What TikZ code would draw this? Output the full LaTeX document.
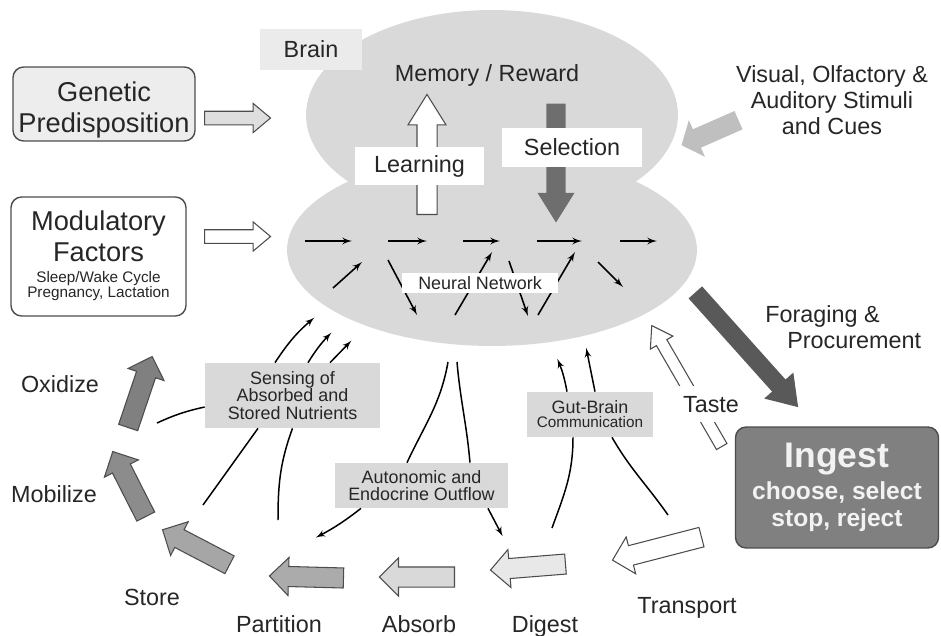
\documentclass[tikz,border=0pt]{standalone}
\usepackage{fontspec}
\setmainfont{Liberation Sans}
\newcommand\MainFont{\fontsize{13.3}{14.8}\selectfont}
\newcommand\BigFont{\fontsize{15.5}{17.5}\selectfont}
\newcommand\SmallFont{\fontsize{10.2}{10}\selectfont}
\newcommand\TinyFont{\fontsize{8.7}{9}\selectfont}
\usetikzlibrary
  {
    calc,
    arrows,
    shapes.geometric,
    shapes.arrows,
  }
\tikzset
  {
    >=latex',
    lobe/.style=
      {
        ellipse,
        fill=black!15,
        inner sep=0pt,
      },
    word/.style=
      {
        font=\MainFont,
        text=black!85,
        inner sep=0pt,
        align=center,
      },
    gray box/.style=
      {
        word,
        fill=black!15,
        font=\SmallFont,
      },
    white box/.style={gray box, fill=white, font=\MainFont},
    factor/.style=
      {
        draw=black!70,
        line width=.8pt,
        rounded corners=6pt,
        inner sep=0pt,
      },
    net arrow/.style={->, line width=.9pt},
    signal/.style={->, line width=.85pt, shorten >=.5pt},
    plain signal/.style={line width=.85pt},
    fat arrow/.style=
      {
        single arrow,
        draw=black!70,
        line width=.6pt,
        fill=white,
        inner xsep=0pt,
        inner ysep=.19cm,
        single arrow head extend=.18cm,
        single arrow tip angle=90,
        minimum width=0pt,
        anchor=tail,
      },
    thin arrow/.style=
      {
        inner ysep=.125cm,
        single arrow head extend=.155cm,
        single arrow tip angle=80,
      },
    tall arrow/.style=
      {
        inner ysep=.19cm,
        single arrow head extend=.18cm,
        single arrow tip angle=64,
      },
  }
\newcommand\FatArrow[4][]
  {%
    \path let \p1=($(#4)-(#3)$) in
      node[fat arrow, #1, rotate={atan2(\y1,\x1)},
        minimum height={veclen(\x1,\y1)}] (#2) at (#3) {};%
  }

\begin{document}
\begin{tikzpicture}[x=.02cm, y=-.02cm]
  \useasboundingbox (0,0) rectangle (941,636);

  \node[lobe, minimum width=7.44cm, minimum height=4.2cm] (memory lobe) at (492,115) {};
  \node[lobe, minimum width=8.2cm, minimum height=3.84cm] (network lobe) at (492,250) {};
  \node[gray box, fill=black!8, font=\MainFont, minimum width=2.04cm, minimum height=.82cm]
    (brain) at (311,49.5) {Brain};
  \node[word, anchor=base] (memory) at (487,81) {Memory / Reward};

  \FatArrow[tall arrow]{learning arrow}{427,215}{427,95}
  \node[white box, minimum width=2.58cm, minimum height=.76cm] (learning) at (419.5,166) {Learning};
  \FatArrow[tall arrow, inner ysep=.18cm, fill=black!57, draw=none]{selection arrow}{556,103}{556,222}
  \node[white box, minimum width=2.8cm, minimum height=.78cm] (selection) at (572,147.5) {Selection};

  \foreach \a/\b in {305/352, 388/427, 463/500, 537/582, 620/657}
    \draw[net arrow] (\a,241) -- (\b,241);
  \foreach \a/\b/\c/\d in
    {333/288/362/262, 388/260/417/315, 455/315/492/252,
     509/261/528/316, 538/315/575/252, 598/262/623/287}
    \draw[net arrow] (\a,\b) -- (\c,\d);
  \node[white box, font=\SmallFont, minimum width=3.12cm, minimum height=.4cm]
    (neural network) at (480,283) {Neural Network};

  \node[factor, fill=black!7, minimum width=3.64cm, minimum height=1.48cm] (genetic) at (104,104) {};
  \node[word, font=\BigFont] (genetic text) at (104,110) {Genetic\\Predisposition};
  \node[factor, fill=white, minimum width=3.5cm, minimum height=2.38cm] (modulatory) at (98.5,256.5) {};
  \node[word, font=\BigFont] (modulatory text) at (98.5,256)
    {Modulatory\\Factors\\[-5.6pt]{\TinyFont Sleep/Wake Cycle}\\[-8.7pt]{\TinyFont Pregnancy, Lactation}};
  \FatArrow[thin arrow, fill=black!13]{genetic arrow}{204,118}{270,118}
  \FatArrow[thin arrow]{modulatory arrow}{204,236.5}{270,236.5}

  \node[word, anchor=north] (cues) at (832,65) {Visual, Olfactory \&\\Auditory Stimuli\\and Cues};
  \FatArrow[single arrow head extend=.2cm, single arrow tip angle=100, fill=black!25, draw=none]
    {cue arrow}{739,120}{682,145}

  \FatArrow[inner ysep=.17cm, single arrow head extend=.21cm, single arrow tip angle=68,
    fill=black!65, draw=none]{foraging arrow}{695,292}{798,407}
  \node[word, align=left, anchor=north west] (foraging) at (765,305)
    {Foraging \&\\\hspace*{.44cm}Procurement};

  \node
    [
      factor,
      fill=black!50,
      minimum width=4.06cm,
      minimum height=2.42cm,
      text=black!5,
      font=\bfseries\fontsize{14}{18}\selectfont,
      align=center,
    ]
    (ingest) at (837,487.5)
    {{\fontsize{20.2}{18}\selectfont Ingest}\\choose, select\\[-2.8pt]stop, reject};

  \FatArrow[inner ysep=.11cm, single arrow head extend=.14cm, single arrow tip angle=67]
    {taste arrow}{722,447}{652,326}
  \node[word, anchor=base, fill=white, inner sep=.2cm] (taste) at (711,412) {Taste};

  \node[gray box, minimum width=3.5cm, minimum height=1.3cm] (sensing) at (292.5,395.5)
    {Sensing of\\Absorbed and\\Stored Nutrients};
  \node[gray box, minimum width=3.46cm, minimum height=.9cm] (autonomic) at (421.5,485.5)
    {Autonomic and\\Endocrine Outflow};
  \node[gray box, minimum width=2.52cm, minimum height=.9cm] (gut brain) at (590,414.5)
    {Gut-Brain\\[-2.1pt]{\TinyFont Communication}};

  \coordinate (sense 1) at (315,317);
  \coordinate (sense 2) at (332,332);
  \coordinate (sense 3) at (352,340);
  \coordinate (oxidize signal) at (157,423);
  \coordinate (store signal) at (203,505);
  \coordinate (partition signal) at (278,520);
  \coordinate (outflow 1) at (448,362);
  \coordinate (outflow 2) at (457,362);
  \coordinate (to partition) at (315,538);
  \coordinate (to digest) at (503,537);
  \coordinate (gut in 1) at (557,358);
  \coordinate (gut in 2) at (586,347);
  \coordinate (digest signal) at (552,528);
  \coordinate (transport signal) at (668,515);

  \draw[signal] ([xshift=-.35cm]sensing.north) to[bend left=8] (sense 1);
  \draw[signal] ([xshift=.31cm]sensing.north) to[bend left=6] (sense 2);
  \draw[signal] ([xshift=.75cm]sensing.north) -- (sense 3);
  \draw[plain signal] (oxidize signal) to[bend left=6] ([yshift=-.23cm]sensing.west);
  \draw[plain signal] (store signal) -- ([xshift=-.69cm]sensing.south);
  \draw[plain signal] (partition signal) to[out=90, in=-110] (sensing.south);

  \draw[plain signal] (outflow 1) to[out=-100, in=65] ([xshift=-.29cm]autonomic.north);
  \draw[plain signal] (outflow 2) to[out=-85, in=95] ([xshift=.97cm]autonomic.north);
  \draw[signal] ([xshift=-1.21cm]autonomic.south) to[bend left=5] (to partition);
  \draw[signal] ([xshift=1.33cm]autonomic.south) -- (to digest);

  \draw[signal] ([xshift=-.46cm]gut brain.north) to[bend right=6] (gut in 1);
  \draw[signal] ([xshift=.1cm]gut brain.north) -- (gut in 2);
  \draw[plain signal] (digest signal) to[out=70, in=-90] ([xshift=-.34cm]gut brain.south);
  \draw[plain signal] (transport signal) to[out=125, in=-60] ([xshift=.44cm]gut brain.south);

  \FatArrow{transport arrow}{702,537}{613,560}
  \FatArrow[fill=black!9]{digest arrow}{566,564}{491,570}
  \FatArrow[fill=black!15]{absorb arrow}{455,577}{380,577}
  \FatArrow[fill=black!33]{partition arrow}{344,578}{270,576}
  \FatArrow[fill=black!35]{store arrow}{230,565}{163,530}
  \FatArrow[fill=black!45]{mobilize arrow}{146,517}{113,452}
  \FatArrow[fill=black!50]{oxidize arrow}{128,428}{152,357}

  \begin{scope}[every node/.style={word, anchor=base}]
    \node (oxidize) at (60,392) {Oxidize};
    \node (mobilize) at (54,502) {Mobilize};
    \node (store) at (152,605) {Store};
    \node (partition) at (279,632) {Partition};
    \node (absorb) at (419,632) {Absorb};
    \node (digest) at (545,632) {Digest};
    \node (transport) at (687,613) {Transport};
  \end{scope}
\end{tikzpicture}
\end{document}
